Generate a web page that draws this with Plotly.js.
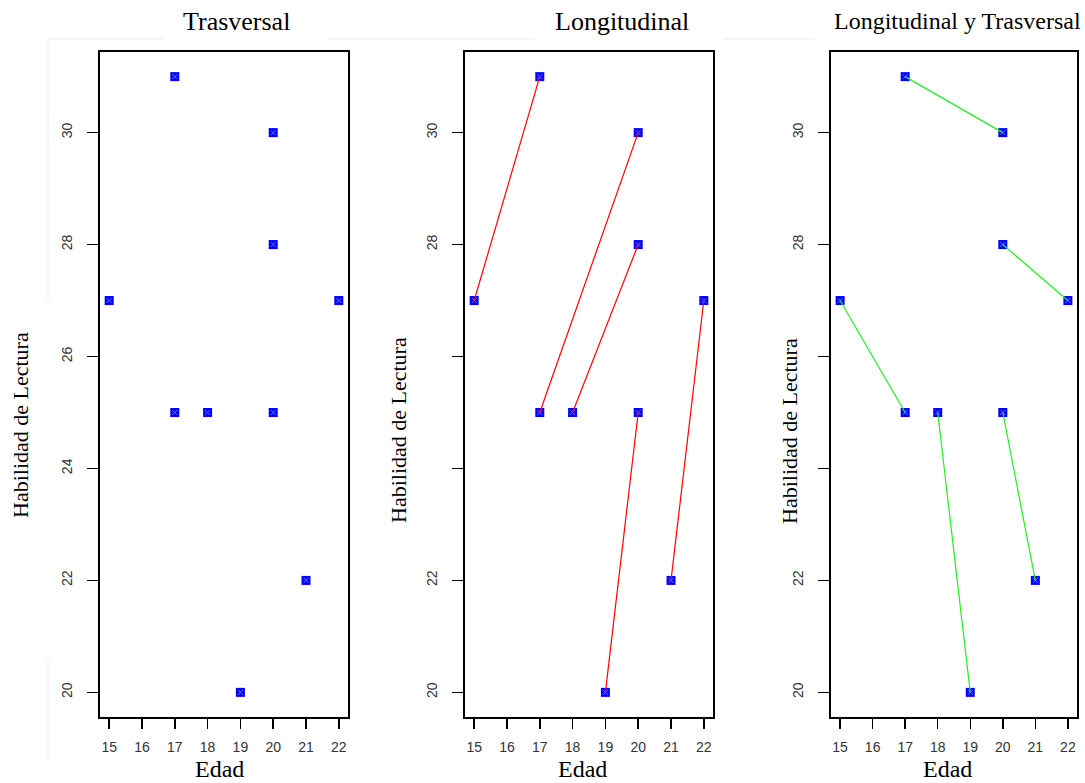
<!DOCTYPE html>
<html>
<head>
<meta charset="utf-8">
<script src="https://cdn.plot.ly/plotly-3.0.1.min.js"></script>
<style>html,body{margin:0;padding:0;background:#fff;}#chart{width:1085px;height:783px;}</style>
</head>
<body>
<div id="chart"></div>
<script>
// ---- Data ----
const edad = [15, 17, 17, 18, 19, 20, 20, 20, 21, 22];
const habilidad = [27, 31, 25, 25, 20, 30, 28, 25, 22, 27];

// Longitudinal (red): same subject followed over time
const longEdadInicio = [15, 17, 18, 19, 21];
const longHabInicio = [27, 25, 25, 20, 22];
const longEdadFin = [17, 20, 20, 20, 22];
const longHabFin = [31, 30, 28, 25, 27];

// Longitudinal y Trasversal (green)
const ltEdadInicio = [17, 20, 15, 18, 20];
const ltHabInicio = [31, 28, 27, 25, 25];
const ltEdadFin = [20, 22, 17, 19, 21];
const ltHabFin = [30, 27, 25, 20, 22];

const panelTitles = ["Trasversal", "Longitudinal", "Longitudinal y Trasversal"];
const xTitle = "Edad";
const yTitle = "Habilidad de Lectura";
const xTicks = [15, 16, 17, 18, 19, 20, 21, 22];
const yTicks = [20, 22, 24, 26, 28, 30];
const yTickText1 = ["20", "22", "24", "26", "28", "30"];
const yTickText2 = ["20", "22", "", "", "28", "30"];
const yTickText3 = ["20", "22", "", "", "28", "30"];

// ---- helpers ----
const W = 1085, H = 783;
const px = v => v / W;
const py = v => 1 - v / H;

function segs(x0, y0, x1, y1) {
  const xs = [], ys = [];
  for (let i = 0; i < x0.length; i++) {
    xs.push(x0[i], x1[i], null);
    ys.push(y0[i], y1[i], null);
  }
  return {xs, ys};
}

const pointTrace = (xa, ya) => ({
  x: edad, y: habilidad, xaxis: xa, yaxis: ya, type: 'scatter', mode: 'markers',
  marker: {symbol: 'square', size: 9, color: '#0000ff', line: {width: 0}},
  hoverinfo: 'x+y', showlegend: false
});
const crossTrace = (xa, ya) => ({
  x: edad, y: habilidad, xaxis: xa, yaxis: ya, type: 'scatter', mode: 'markers',
  marker: {symbol: 'x-thin-open', size: 5, color: '#6f6fff', line: {width: 1, color: '#6f6fff'}},
  hoverinfo: 'skip', showlegend: false
});

const red = segs(longEdadInicio, longHabInicio, longEdadFin, longHabFin);
const green = segs(ltEdadInicio, ltHabInicio, ltEdadFin, ltHabFin);

const data = [
  pointTrace('x', 'y'), crossTrace('x', 'y'),
  pointTrace('x2', 'y2'), crossTrace('x2', 'y2'),
  {x: red.xs, y: red.ys, xaxis: 'x2', yaxis: 'y2', type: 'scatter', mode: 'lines',
   line: {color: '#ff0000', width: 1.2}, connectgaps: false, hoverinfo: 'skip', showlegend: false},
  pointTrace('x3', 'y3'), crossTrace('x3', 'y3'),
  {x: green.xs, y: green.ys, xaxis: 'x3', yaxis: 'y3', type: 'scatter', mode: 'lines',
   line: {color: '#22ee22', width: 1.2}, connectgaps: false, hoverinfo: 'skip', showlegend: false}
];

const tickFont = {family: 'Liberation Sans, Arial, sans-serif', size: 14, color: '#333'};
function xAxis(d, anchor) {
  return {domain: d, anchor: anchor, range: [14.72, 22.28], tickmode: 'array', tickvals: xTicks,
    ticktext: xTicks.map(String), showline: true, mirror: true, linecolor: '#000', linewidth: 2,
    ticks: 'outside', ticklen: 10, tickwidth: 1.5, tickcolor: '#000', showgrid: false, zeroline: false,
    tickfont: tickFont, ticklabelstandoff: 6, fixedrange: true};
}
function yAxis(d, anchor, txt) {
  return {domain: d, anchor: anchor, range: [19.56, 31.44], tickmode: 'array', tickvals: yTicks,
    ticktext: txt, showline: true, mirror: true, linecolor: '#000', linewidth: 2,
    ticks: 'outside', ticklen: 11, tickwidth: 1.5, tickcolor: '#000', showgrid: false, zeroline: false,
    tickfont: tickFont, tickangle: -90, ticklabelstandoff: 9, fixedrange: true};
}
const yDom = [py(717), py(52)];
const panels = [[100, 348], [465, 713], [831, 1077]];

const titleFont = {family: 'Liberation Serif, Times New Roman, serif', size: 26, color: '#000'};
const ann = [];
const titleX = [237, 622, 957];
const titleSize = [26, 26, 24];
panelTitles.forEach((t, i) => ann.push({text: t, xref: 'paper', yref: 'paper', x: px(titleX[i]), y: py(21),
  xanchor: 'center', yanchor: 'middle', showarrow: false, font: Object.assign({}, titleFont, {size: titleSize[i]})}));
const edadX = [219, 582, 947];
edadX.forEach(x => ann.push({text: xTitle, xref: 'paper', yref: 'paper', x: px(x), y: py(783),
  xanchor: 'center', yanchor: 'bottom', borderpad: 0, showarrow: false,
  font: Object.assign({}, titleFont, {size: 24})}));
const yTitleX = [20, 398, 790];
const yTitleY = [425, 430, 431];
yTitleX.forEach((x, i) => ann.push({text: yTitle, xref: 'paper', yref: 'paper', x: px(x), y: py(yTitleY[i]),
  xanchor: 'center', yanchor: 'middle', textangle: -90, showarrow: false,
  font: {family: 'Liberation Serif, Times New Roman, serif', size: 22, color: '#000'}}));

const faint = '#ececec';
const shapes = [
  [48, 39, 163, 39], [327, 39, 535, 39], [722, 39, 815, 39],
  [48, 39, 48, 300], [48, 660, 48, 760]
].map(s => ({type: 'line', xref: 'paper', yref: 'paper', x0: px(s[0]), y0: py(s[1]), x1: px(s[2]), y1: py(s[3]),
  line: {color: faint, width: 1}, layer: 'below'}));

const layout = {
  width: W, height: H, margin: {l: 0, r: 0, t: 0, b: 0},
  paper_bgcolor: '#fff', plot_bgcolor: '#fff', showlegend: false,
  xaxis: xAxis([px(panels[0][0]), px(panels[0][1])], 'y'),
  yaxis: yAxis(yDom, 'x', yTickText1),
  xaxis2: xAxis([px(panels[1][0]), px(panels[1][1])], 'y2'),
  yaxis2: yAxis(yDom, 'x2', yTickText2),
  xaxis3: xAxis([px(panels[2][0]), px(panels[2][1])], 'y3'),
  yaxis3: yAxis(yDom, 'x3', yTickText3),
  annotations: ann, shapes: shapes
};

Plotly.newPlot('chart', data, layout, {displayModeBar: false, staticPlot: true});
</script>
</body>
</html>
